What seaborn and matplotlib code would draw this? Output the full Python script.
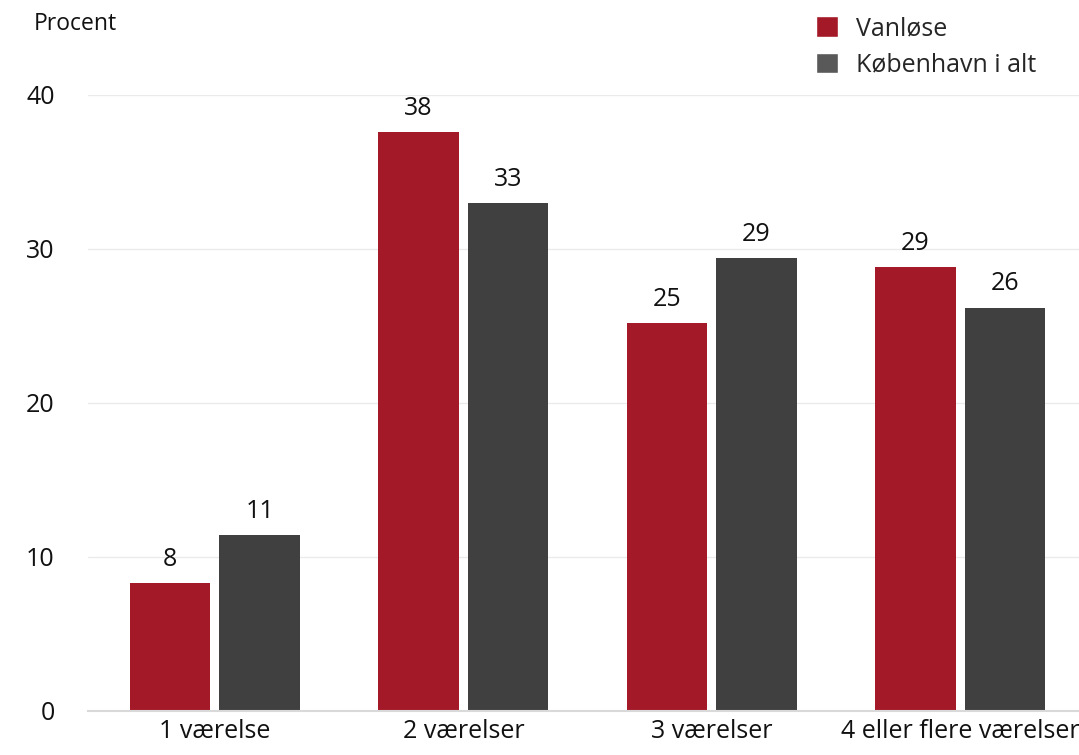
import pandas as pd
import matplotlib.pyplot as plt
import seaborn as sns
from matplotlib.patches import Patch

# Data
categories = ['1 værelse', '2 værelser', '3 værelser', '4 eller flere værelser']
series = ['Vanløse', 'København i alt']
vanloese = [8.3, 37.6, 25.2, 28.8]
kbh = [11.4, 33.0, 29.4, 26.2]
colors = ['#a31927', '#404040']
legend_colors = ['#a31927', '#595959']

df = pd.DataFrame({
    'Kategori': categories * 2,
    'Område': [series[0]] * 4 + [series[1]] * 4,
    'Procent': vanloese + kbh,
})

sns.set_style("white")
plt.rcParams['font.family'] = ['Open Sans', 'DejaVu Sans']

fig = plt.figure(figsize=(10.79, 7.55), dpi=100)
ax = fig.add_axes([0.0816, 0.0583, 0.9184, 0.8159])

sns.barplot(data=df, x='Kategori', y='Procent', hue='Område', palette=colors,
            width=0.72, gap=0.1, ax=ax, legend=False, errorbar=None,
            saturation=1, edgecolor='none')

ax.set_ylim(0, 40)
ax.set_xlim(-0.511, 3.479)
ax.set_yticks([0, 10, 20, 30, 40])
ax.yaxis.grid(True, color='#ebebeb', linewidth=1)
ax.set_axisbelow(True)
for s in ['top', 'right', 'left']:
    ax.spines[s].set_visible(False)
ax.spines['bottom'].set_color('#d9d9d9')
ax.spines['bottom'].set_linewidth(1.5)
ax.tick_params(axis='both', length=0, labelsize=18, colors='#111111')
ax.tick_params(axis='y', pad=24)
ax.tick_params(axis='x', pad=6)
ax.set_xlabel('')
ax.set_ylabel('')

for cont in ax.containers:
    ax.bar_label(cont, labels=[f"{v:.0f}" for v in cont.datavalues],
                 padding=8, fontsize=18, color='#111111')

fig.text(0.031, 0.968, 'Procent', fontsize=16.5, color='#111111', va='center')

handles = [Patch(facecolor=c, label=l) for c, l in zip(legend_colors, series)]
fig.legend(handles=handles, loc='upper left', bbox_to_anchor=(0.735, 1.008),
           frameon=False, fontsize=18, handlelength=0.9, handleheight=0.9,
           handletextpad=0.7, labelspacing=0.45)

fig.savefig('out.png', dpi=100)
